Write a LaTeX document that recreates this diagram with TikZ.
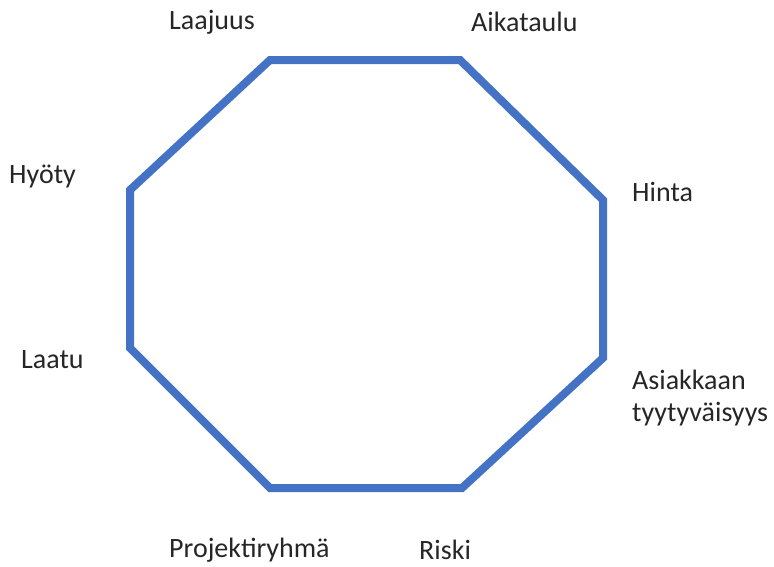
\documentclass[tikz,border=0pt]{standalone}
\usepackage{fontspec}
\setmainfont{Carlito}
\definecolor{edgeblue}{HTML}{4472C4}
\begin{document}
\begin{tikzpicture}[x=1pt,y=-1pt,
  lbl/.style={inner sep=0pt,anchor=west,font=\fontsize{28}{32}\selectfont,text=black!85},
  edge/.style={draw=edgeblue,line width=8pt,line join=miter}]
\useasboundingbox (0,0) rectangle (774,566);
% octagon
\draw[edge] (270,60) -- (460,60) -- (603,200) -- (603,358) -- (462,488)
  -- (270,488) -- (130,348) -- (130,190) -- cycle;
% labels
\node[lbl] (laajuus) at (169,22) {Laajuus};
\node[lbl] (aikataulu) at (471,22) {Aikataulu};
\node[lbl] (hinta) at (632,192) {Hinta};
\node[lbl,align=left] (asiakas) at (632,398) {Asiakkaan\\tyytyväisyys};
\node[lbl] (riski) at (419,550) {Riski};
\node[lbl] (ryhma) at (169,550) {Projektiryhmä};
\node[lbl] (laatu) at (21,360) {Laatu};
\node[lbl] (hyoty) at (9,176) {Hyöty};
\end{tikzpicture}
\end{document}
